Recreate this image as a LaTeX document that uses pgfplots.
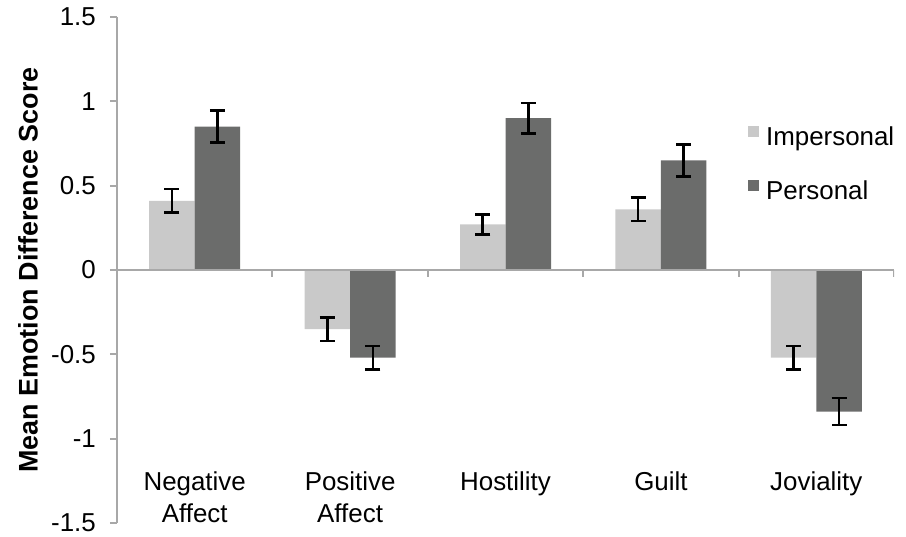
\documentclass[border=0pt]{standalone}
\usepackage{pgfplots}
\pgfplotsset{compat=1.18}
\usepackage{fontspec}
\setmainfont{Liberation Sans}
\definecolor{lightbar}{HTML}{C9C9C9}
\definecolor{darkbar}{HTML}{6B6C6B}
\definecolor{axisgray}{HTML}{A8A8A8}
\begin{document}
\begin{tikzpicture}
\begin{axis}[
  scale only axis, width=777bp, height=506bp,
  xmin=-0.5, xmax=4.5, ymin=-1.5, ymax=1.5,
  axis x line*=bottom, axis y line*=left,
  x axis line style={draw=none},
  y axis line style={axisgray, line width=2bp, -},
  ytick={-1.5,-1,-0.5,0,0.5,1,1.5},
  yticklabels={-1.5,-1,-0.5,0,0.5,1,1.5},
  ytick style={axisgray, line width=2bp},
  tick align=outside, major tick length=7bp,
  yticklabel style={font=\fontsize{26}{30}\selectfont, anchor=east, inner sep=0pt, xshift=-14bp},
  xtick={0,1,2,3,4},
  xticklabels={Negative\\Affect, Positive\\Affect, Hostility, Guilt, Joviality},
  xtick style={draw=none},
  xticklabel style={font=\fontsize{26}{32}\selectfont, align=center, anchor=north, yshift=62bp},
  ylabel={\bfseries Mean Emotion Difference Score},
  ylabel style={font=\fontsize{27}{30}\selectfont, at={(axis description cs:-0.1145,0.5)}, anchor=center},
  ybar=0pt, bar width=45.5bp,
  legend style={draw=none, fill=none, at={(0.812,0.787)}, anchor=north west,
    font=\fontsize{26}{30}\selectfont, row sep=30bp, inner xsep=0pt, inner ysep=0pt},
  legend cell align=left,
]
\addplot[fill=lightbar, draw=none,
  legend image code/.code={\fill[lightbar] (0bp,0bp) rectangle (11bp,11bp); \path (16bp,0bp);},
  error bars/.cd, y dir=both, y explicit,
  error bar style={black, line width=2.6bp},
  error mark options={rotate=90, mark size=7.5bp, line width=2.6bp, black}]
  coordinates {(0,0.41) +- (0,0.07) (1,-0.35) +- (0,0.07) (2,0.27) +- (0,0.06) (3,0.36) +- (0,0.07) (4,-0.52) +- (0,0.07)};
\addlegendentry{Impersonal}
\addplot[fill=darkbar, draw=none,
  legend image code/.code={\fill[darkbar] (0bp,0bp) rectangle (11bp,11bp); \path (16bp,0bp);},
  error bars/.cd, y dir=both, y explicit,
  error bar style={black, line width=2.6bp},
  error mark options={rotate=90, mark size=7.5bp, line width=2.6bp, black}]
  coordinates {(0,0.85) +- (0,0.095) (1,-0.52) +- (0,0.07) (2,0.90) +- (0,0.09) (3,0.65) +- (0,0.095) (4,-0.84) +- (0,0.08)};
\addlegendentry{Personal}
\draw[axisgray, line width=2.5bp] (axis cs:-0.5,0) -- (axis cs:4.5,0);
\pgfplotsinvokeforeach{0.5,1.5,2.5,3.5,4.5}{\draw[axisgray, line width=2bp] (axis cs:#1,0) -- ++(0bp,-7bp);}
\end{axis}
\pgfresetboundingbox
\path[use as bounding box] (-117bp,-14bp) rectangle (789bp,523bp);
\end{tikzpicture}
\end{document}
